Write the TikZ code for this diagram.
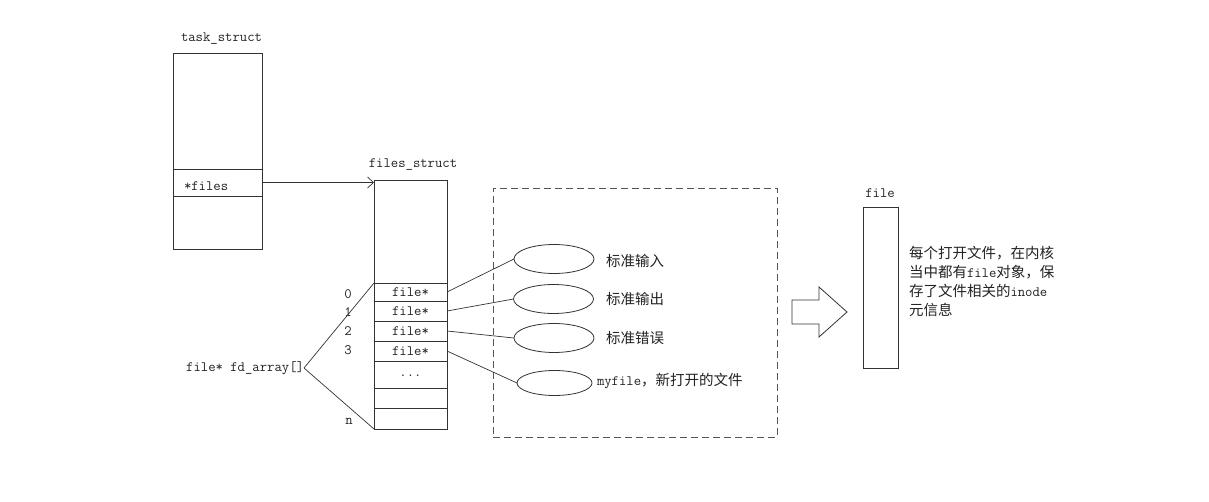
\documentclass[tikz,border=0pt]{standalone}
\usepackage{fontspec}
\setmainfont{Noto Sans CJK SC}
\setmonofont{Latin Modern Mono}
\usetikzlibrary{shapes.geometric,arrows.meta}
\definecolor{linec}{HTML}{333333}
\definecolor{txtc}{HTML}{222222}
\definecolor{dashc}{HTML}{555555}
\newcommand{\mylat}[1]{{\fontsize{14.3}{19}\ttfamily #1}}
\begin{document}
\begin{tikzpicture}[x=1pt,y=-1pt,
  every node/.style={inner sep=0pt, outer sep=0pt},
  ln/.style={draw=linec, line width=0.8pt},
  tt/.style={font=\fontsize{14.3}{16}\ttfamily, text=txtc},
  zh/.style={font=\fontsize{14.5}{19.2}\selectfont, text=txtc},
  cell/.style={ln, tt, minimum width=73pt, anchor=north west},
  tbox/.style={ln, minimum width=89pt, anchor=north west},
  conn/.style={draw=linec, line width=0.7pt},
  oval/.style={ellipse, ln, minimum width=80pt, minimum height=29pt},
]
\useasboundingbox (0,0) rectangle (1209,502);
% task_struct
\node[tt, anchor=west] (tasklbl) at (181,39) {task\_struct};
\node[tbox, minimum height=116pt] (tasktop) at (173,53) {};
\node[tbox, minimum height=27pt] (taskfiles) at (173,169) {};
\node[tbox, minimum height=53pt] (taskbot) at (173,196) {};
\node[tt, anchor=west] (fileslbl) at (184,186) {*files};
% files_struct
\node[tt] (fslbl) at (413,165) {files\_struct};
\node[cell, minimum height=103pt] (fstop) at (374,180) {};
\node[cell, minimum height=18pt] (fs0) at (374,283) {file*};
\node[cell, minimum height=20pt] (fs1) at (374,301) {file*};
\node[cell, minimum height=20pt] (fs2) at (374,321) {file*};
\node[cell, minimum height=20pt] (fs3) at (374,341) {file*};
\node[cell, minimum height=27pt] (fsdots) at (374,361) {\raisebox{-4pt}{...}};
\node[cell, minimum height=20pt] (fsa) at (374,388) {};
\node[cell, minimum height=21pt] (fsn) at (374,408) {};
% indices
\node[tt] (i0) at (348,294) {0};
\node[tt] (i1) at (348,312) {1};
\node[tt] (i2) at (348,331) {2};
\node[tt] (i3) at (348,350) {3};
\node[tt] (in) at (349,421) {n};
% fd_array
\node[tt, anchor=east] (fd) at (304,368) {file* fd\_array[]};
\draw[conn] (fd.east) -- (fs0.north west);
\draw[conn] (fd.east) -- (fsn.south west);
% pointer arrow
\draw[conn, -{Straight Barb[length=6pt,width=11pt]}] (taskfiles.east) -- (fstop.west |- taskfiles.east);
% dashed region
\node[draw=dashc, line width=0.8pt, dash pattern=on 7pt off 4pt, minimum width=284pt, minimum height=249pt, anchor=north west] (dashbox) at (493,188) {};
% ellipses
\node[oval] (e1) at (554,259) {};
\node[oval] (e2) at (553.5,299) {};
\node[oval] (e3) at (554,338) {};
\node[oval, minimum width=75pt, minimum height=25pt] (e4) at (554.5,383) {};
\draw[conn] (fs0.east) -- (e1.west);
\draw[conn] (fs1.east) -- (e2.west);
\draw[conn] (fs2.east) -- (e3.west);
\draw[conn] (fs3.east) -- (e4.west);
\node[zh, anchor=west] (t1) at (606,261) {标准输入};
\node[zh, anchor=west] (t2) at (606,299) {标准输出};
\node[zh, anchor=west] (t3) at (606,338) {标准错误};
\node[zh, anchor=west] (t4) at (597,381) {\mylat{myfile}，新打开的文件};
% block arrow
\draw[ln, fill=white] (792,300) -- (819,300) -- (819,287) -- (847,312) -- (819,337) -- (819,324) -- (792,324) -- cycle;
% file object
\node[tt] (filelbl) at (880,193) {file};
\node[ln, minimum width=35pt, minimum height=161pt, anchor=north west] (filebox) at (863,207) {};
\node[zh, anchor=north west, align=left] (desc) at (909,246) {每个打开文件，在内核\\当中都有\mylat{file}对象，保\\存了文件相关的\mylat{inode}\\元信息};
\end{tikzpicture}
\end{document}
